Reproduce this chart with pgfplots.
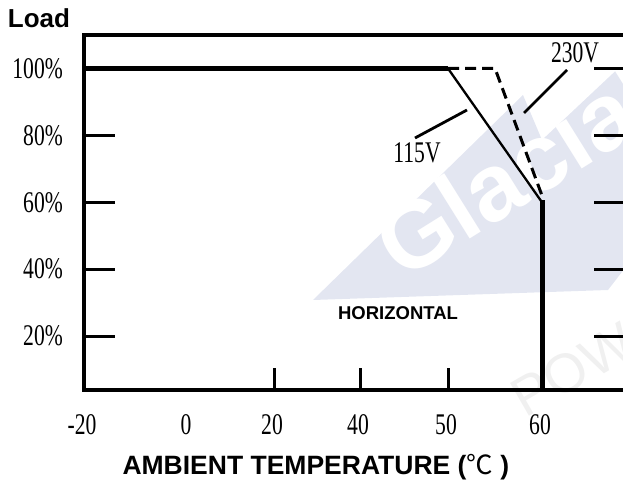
\documentclass[border=0pt]{standalone}
\usepackage{pgfplots}
\pgfplotsset{compat=1.18}
\usepackage{fontspec}
\setmainfont{Liberation Serif}[FakeStretch=0.72]
\setsansfont{Liberation Sans}
\newfontfamily\cjk{Noto Sans CJK SC}
\definecolor{wmblue}{RGB}{227,230,241}
\begin{document}
\begin{tikzpicture}[x=1pt,y=1pt]
% watermark (background)
\fill[wmblue] (313,187) -- (523,392) -- (542,347) -- (625,425) -- (625,219) -- (608,197) -- cycle;
\node[white, font=\sffamily\bfseries\fontsize{95}{95}\selectfont, rotate=32, anchor=base west, inner sep=0pt] at (402,205) {Glacial};
\node[black!6, font=\sffamily\fontsize{55}{55}\selectfont, rotate=30, anchor=base west, inner sep=0pt] at (525,68) {POWER};
\begin{axis}[
  at={(84pt,97pt)}, anchor=south west,
  scale only axis, width=541pt, height=355pt,
  x coord trafo/.code={\pgfmathparse{(#1)<0 ? ((#1)+20)*5.2 : ((#1)<40 ? 104+(#1)*4.3 : ((#1)<50 ? 276+((#1)-40)*8.8 : 364+((#1)-50)*9.4))}},
  xmin=-20, xmax=68.83,
  ymin=3.9, ymax=110,
  axis line style={line width=3.2pt},
  tick align=inside,
  major tick length=31pt,
  minor tick length=22pt,
  xtick={-20,0,20,40,50,60},
  xticklabels={-20,0,20,40,50,60},
  major x tick style={draw=none},
  minor xtick={20,40,50},
  minor x tick style={line width=3pt, black},
  xtick pos=bottom,
  ytick={20,40,60,80,100},
  yticklabels={20\%,40\%,60\%,80\%,100\%},
  ytick pos=both,
  major y tick style={line width=3pt, black},
  xticklabel style={anchor=north, inner sep=0pt, yshift=-24pt, xshift=-2pt, font=\fontsize{30}{30}\selectfont},
  yticklabel style={anchor=east, inner sep=0pt, xshift=-21pt, font=\fontsize{30}{30}\selectfont},
  xlabel={AMBIENT TEMPERATURE ({\mdseries\cjk ℃} )},
  every axis x label/.style={at={(axis description cs:0.4286,-0.2394)}, anchor=base, inner sep=0pt, font=\sffamily\bfseries\fontsize{26.5}{26.5}\selectfont},
  ylabel={Load},
  every axis y label/.style={at={(axis description cs:-0.141,1.0197)}, anchor=base west, inner sep=0pt, font=\sffamily\bfseries\fontsize{26}{26}\selectfont},
]
% rated full load up to 50 C
\addplot[black, line width=5pt] coordinates {(-20,100) (50,100)};
% 115V derating
\addplot[black, line width=2.3pt] coordinates {(50,100) (60,60)};
% 230V derating
\addplot[black, line width=3pt, dash pattern=on 11pt off 6pt] coordinates {(50,100) (55,100) (60,62)};
% cut-off at 60 C
\addplot[black, line width=5pt] coordinates {(60,60.6) (60,3.9)};
\end{axis}
% annotations
\draw[line width=2.8pt] (567,417) -- (524,374);
\draw[line width=2.8pt] (415,349) -- (467,377);
\node[anchor=base, inner sep=0pt, font=\fontsize{30}{30}\selectfont] at (575,424) {230V};
\node[anchor=base, inner sep=0pt, font=\fontsize{30}{30}\selectfont] at (417,324) {115V};
\node[anchor=base, inner sep=0pt, font=\sffamily\bfseries\fontsize{18.5}{18.5}\selectfont] at (398,167) {HORIZONTAL};
\pgfresetboundingbox
\useasboundingbox (0,0) rectangle (623,487);
\end{tikzpicture}
\end{document}
